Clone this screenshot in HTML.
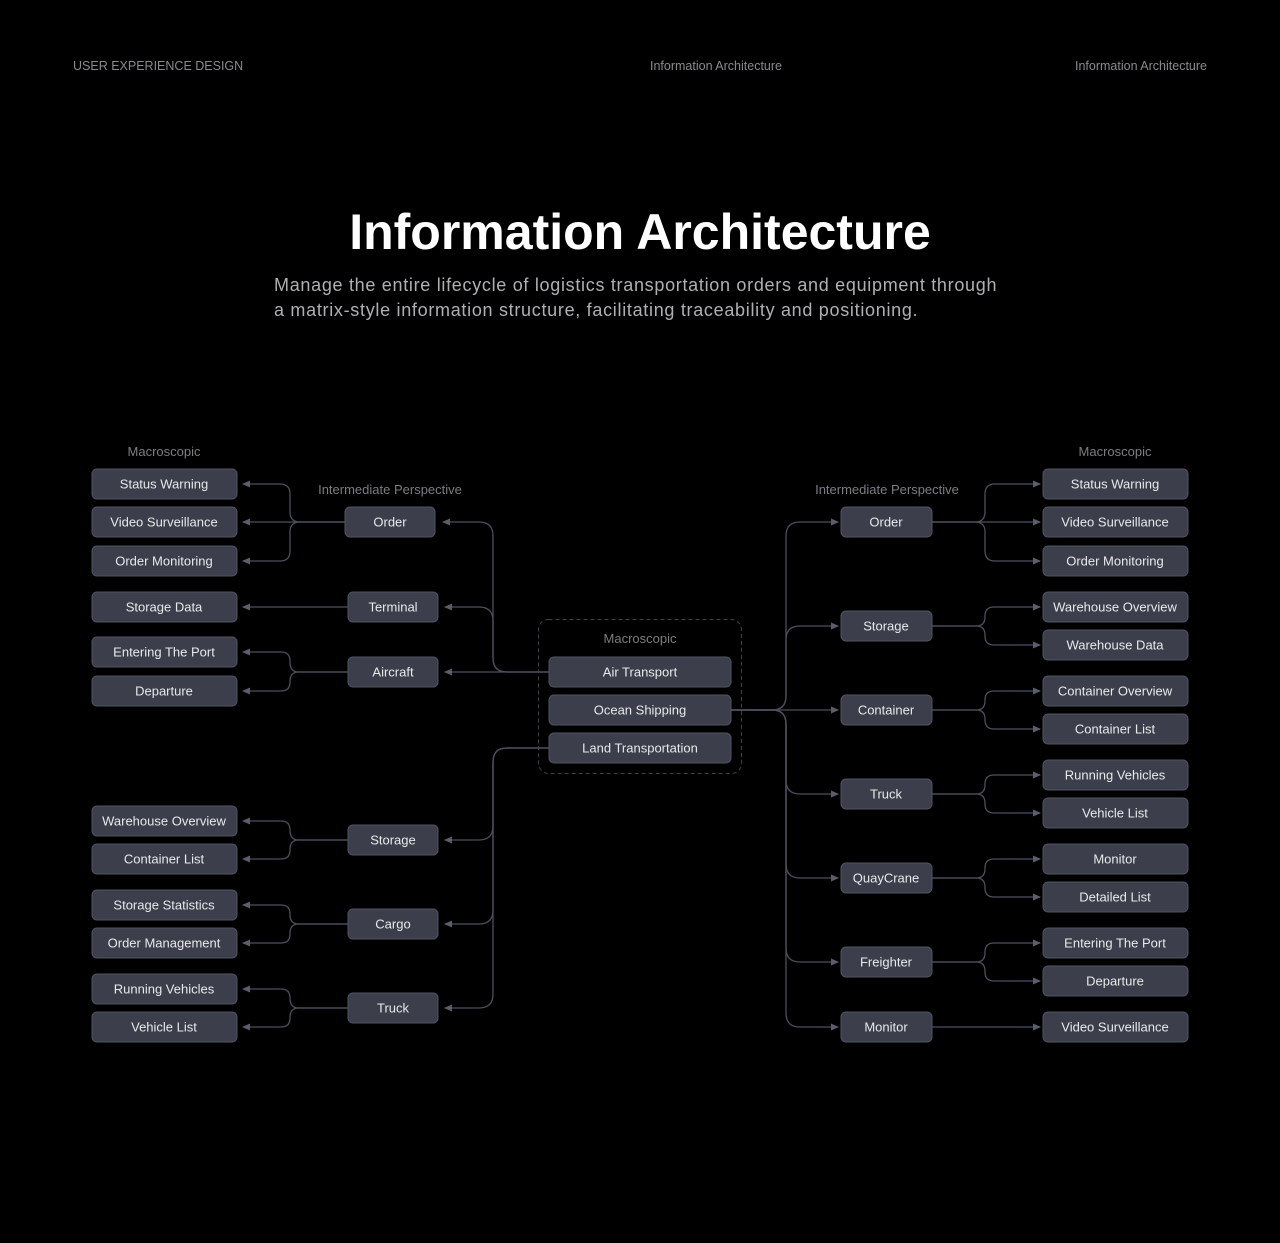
<!DOCTYPE html>
<html><head><meta charset="utf-8"><style>
html,body{margin:0;padding:0;background:#000;}
svg{display:block;}
text{font-family:"Liberation Sans",sans-serif;}
.b{fill:#3c3f4b;stroke:#4f5361;stroke-width:1;}
.t{fill:#e8e8ea;font-size:13px;text-anchor:middle;dominant-baseline:central;}
.l{fill:none;stroke:#4b4f5d;stroke-width:1.3;marker-end:url(#a);}
.g{fill:#7c7c82;font-size:13px;text-anchor:middle;}
</style></head><body>
<svg width="1280" height="1243" viewBox="0 0 1280 1243" xmlns="http://www.w3.org/2000/svg">
<defs><marker id="a" markerWidth="8" markerHeight="8" refX="7" refY="4" orient="auto" markerUnits="userSpaceOnUse"><path d="M0,0.5 L8,4 L0,7.5 z" fill="#5a5e6c"/></marker></defs>
<rect width="1280" height="1243" fill="#000"/>
<text x="73" y="70" fill="#8a8a8e" font-size="12.5">USER EXPERIENCE DESIGN</text>
<text x="716" y="70" fill="#8a8a8e" font-size="12.5" text-anchor="middle">Information Architecture</text>
<text x="1207" y="70" fill="#8a8a8e" font-size="12.5" text-anchor="end">Information Architecture</text>
<text x="640" y="249" fill="#fff" font-size="50" font-weight="bold" text-anchor="middle">Information Architecture</text>
<text x="274" y="291" fill="#b0b0b4" font-size="18" letter-spacing="0.7">Manage the entire lifecycle of logistics transportation orders and equipment through</text>
<text x="274" y="316" fill="#b0b0b4" font-size="18" letter-spacing="0.7">a matrix-style information structure, facilitating traceability and positioning.</text>

<text class="g" x="164" y="456">Macroscopic</text>
<text class="g" x="390" y="494">Intermediate Perspective</text>
<text class="g" x="1115" y="456">Macroscopic</text>
<text class="g" x="887" y="494">Intermediate Perspective</text>

<path class="l" d="M345 522 H300 Q290 522 290 512 V494 Q290 484 280 484 H243"/>
<path class="l" d="M345 522 H243"/>
<path class="l" d="M345 522 H300 Q290 522 290 532 V551 Q290 561 280 561 H243"/>
<path class="l" d="M348 607 H243"/>
<path class="l" d="M348 672 H299 Q290 672 290 663 V661 Q290 652 281 652 H243"/>
<path class="l" d="M348 672 H299 Q290 672 290 681 V682 Q290 691 281 691 H243"/>
<path class="l" d="M348 840 H299 Q290 840 290 831 V830 Q290 821 281 821 H243"/>
<path class="l" d="M348 840 H299 Q290 840 290 849 V850 Q290 859 281 859 H243"/>
<path class="l" d="M348 924 H299 Q290 924 290 915 V914 Q290 905 281 905 H243"/>
<path class="l" d="M348 924 H299 Q290 924 290 933 V934 Q290 943 281 943 H243"/>
<path class="l" d="M348 1008 H299 Q290 1008 290 999 V998 Q290 989 281 989 H243"/>
<path class="l" d="M348 1008 H299 Q290 1008 290 1017 V1018 Q290 1027 281 1027 H243"/>

<path class="l" d="M549 672 H507 Q493 672 493 658 V536 Q493 522 479 522 H443"/>
<path class="l" d="M549 672 H507 Q493 672 493 658 V621 Q493 607 479 607 H445"/>
<path class="l" d="M549 672 H445"/>
<path class="l" d="M549 748 H507 Q493 748 493 762 V826 Q493 840 479 840 H445"/>
<path class="l" d="M549 748 H507 Q493 748 493 762 V910 Q493 924 479 924 H445"/>
<path class="l" d="M549 748 H507 Q493 748 493 762 V994 Q493 1008 479 1008 H445"/>

<path class="l" d="M731 710 H772 Q786 710 786 696 V536 Q786 522 800 522 H838"/>
<path class="l" d="M731 710 H772 Q786 710 786 696 V640 Q786 626 800 626 H838"/>
<path class="l" d="M731 710 H838"/>
<path class="l" d="M731 710 H772 Q786 710 786 724 V780 Q786 794 800 794 H838"/>
<path class="l" d="M731 710 H772 Q786 710 786 724 V864 Q786 878 800 878 H838"/>
<path class="l" d="M731 710 H772 Q786 710 786 724 V948 Q786 962 800 962 H838"/>
<path class="l" d="M731 710 H772 Q786 710 786 724 V1013 Q786 1027 800 1027 H838"/>

<path class="l" d="M932 522 H975 Q985 522 985 512 V494 Q985 484 995 484 H1040"/>
<path class="l" d="M932 522 H1040"/>
<path class="l" d="M932 522 H975 Q985 522 985 532 V551 Q985 561 995 561 H1040"/>
<path class="l" d="M932 626 H976 Q985 626 985 617 V616 Q985 607 994 607 H1040"/>
<path class="l" d="M932 626 H976 Q985 626 985 635 V636 Q985 645 994 645 H1040"/>
<path class="l" d="M932 710 H976 Q985 710 985 701 V700 Q985 691 994 691 H1040"/>
<path class="l" d="M932 710 H976 Q985 710 985 719 V720 Q985 729 994 729 H1040"/>
<path class="l" d="M932 794 H976 Q985 794 985 785 V784 Q985 775 994 775 H1040"/>
<path class="l" d="M932 794 H976 Q985 794 985 803 V804 Q985 813 994 813 H1040"/>
<path class="l" d="M932 878 H976 Q985 878 985 869 V868 Q985 859 994 859 H1040"/>
<path class="l" d="M932 878 H976 Q985 878 985 887 V888 Q985 897 994 897 H1040"/>
<path class="l" d="M932 962 H976 Q985 962 985 953 V952 Q985 943 994 943 H1040"/>
<path class="l" d="M932 962 H976 Q985 962 985 971 V972 Q985 981 994 981 H1040"/>
<path class="l" d="M932 1027 H1040"/>

<rect x="538.5" y="619.5" width="203" height="154" rx="10" fill="none" stroke="#3e414b" stroke-dasharray="4 3"/>
<text class="g" x="640" y="643">Macroscopic</text>
<rect class="b" x="549" y="657" width="182" height="30" rx="5"/><text class="t" x="640" y="672">Air Transport</text>
<rect class="b" x="549" y="695" width="182" height="30" rx="5"/><text class="t" x="640" y="710">Ocean Shipping</text>
<rect class="b" x="549" y="733" width="182" height="30" rx="5"/><text class="t" x="640" y="748">Land Transportation</text>

<rect class="b" x="92" y="469" width="145" height="30" rx="5"/><text class="t" x="164" y="484">Status Warning</text>
<rect class="b" x="92" y="507" width="145" height="30" rx="5"/><text class="t" x="164" y="522">Video Surveillance</text>
<rect class="b" x="92" y="546" width="145" height="30" rx="5"/><text class="t" x="164" y="561">Order Monitoring</text>
<rect class="b" x="92" y="592" width="145" height="30" rx="5"/><text class="t" x="164" y="607">Storage Data</text>
<rect class="b" x="92" y="637" width="145" height="30" rx="5"/><text class="t" x="164" y="652">Entering The Port</text>
<rect class="b" x="92" y="676" width="145" height="30" rx="5"/><text class="t" x="164" y="691">Departure</text>
<rect class="b" x="92" y="806" width="145" height="30" rx="5"/><text class="t" x="164" y="821">Warehouse Overview</text>
<rect class="b" x="92" y="844" width="145" height="30" rx="5"/><text class="t" x="164" y="859">Container List</text>
<rect class="b" x="92" y="890" width="145" height="30" rx="5"/><text class="t" x="164" y="905">Storage Statistics</text>
<rect class="b" x="92" y="928" width="145" height="30" rx="5"/><text class="t" x="164" y="943">Order Management</text>
<rect class="b" x="92" y="974" width="145" height="30" rx="5"/><text class="t" x="164" y="989">Running Vehicles</text>
<rect class="b" x="92" y="1012" width="145" height="30" rx="5"/><text class="t" x="164" y="1027">Vehicle List</text>

<rect class="b" x="345" y="507" width="90" height="30" rx="5"/><text class="t" x="390" y="522">Order</text>
<rect class="b" x="348" y="592" width="90" height="30" rx="5"/><text class="t" x="393" y="607">Terminal</text>
<rect class="b" x="348" y="657" width="90" height="30" rx="5"/><text class="t" x="393" y="672">Aircraft</text>
<rect class="b" x="348" y="825" width="90" height="30" rx="5"/><text class="t" x="393" y="840">Storage</text>
<rect class="b" x="348" y="909" width="90" height="30" rx="5"/><text class="t" x="393" y="924">Cargo</text>
<rect class="b" x="348" y="993" width="90" height="30" rx="5"/><text class="t" x="393" y="1008">Truck</text>

<rect class="b" x="841" y="507" width="91" height="30" rx="5"/><text class="t" x="886" y="522">Order</text>
<rect class="b" x="841" y="611" width="91" height="30" rx="5"/><text class="t" x="886" y="626">Storage</text>
<rect class="b" x="841" y="695" width="91" height="30" rx="5"/><text class="t" x="886" y="710">Container</text>
<rect class="b" x="841" y="779" width="91" height="30" rx="5"/><text class="t" x="886" y="794">Truck</text>
<rect class="b" x="841" y="863" width="91" height="30" rx="5"/><text class="t" x="886" y="878">QuayCrane</text>
<rect class="b" x="841" y="947" width="91" height="30" rx="5"/><text class="t" x="886" y="962">Freighter</text>
<rect class="b" x="841" y="1012" width="91" height="30" rx="5"/><text class="t" x="886" y="1027">Monitor</text>

<rect class="b" x="1043" y="469" width="145" height="30" rx="5"/><text class="t" x="1115" y="484">Status Warning</text>
<rect class="b" x="1043" y="507" width="145" height="30" rx="5"/><text class="t" x="1115" y="522">Video Surveillance</text>
<rect class="b" x="1043" y="546" width="145" height="30" rx="5"/><text class="t" x="1115" y="561">Order Monitoring</text>
<rect class="b" x="1043" y="592" width="145" height="30" rx="5"/><text class="t" x="1115" y="607">Warehouse Overview</text>
<rect class="b" x="1043" y="630" width="145" height="30" rx="5"/><text class="t" x="1115" y="645">Warehouse Data</text>
<rect class="b" x="1043" y="676" width="145" height="30" rx="5"/><text class="t" x="1115" y="691">Container Overview</text>
<rect class="b" x="1043" y="714" width="145" height="30" rx="5"/><text class="t" x="1115" y="729">Container List</text>
<rect class="b" x="1043" y="760" width="145" height="30" rx="5"/><text class="t" x="1115" y="775">Running Vehicles</text>
<rect class="b" x="1043" y="798" width="145" height="30" rx="5"/><text class="t" x="1115" y="813">Vehicle List</text>
<rect class="b" x="1043" y="844" width="145" height="30" rx="5"/><text class="t" x="1115" y="859">Monitor</text>
<rect class="b" x="1043" y="882" width="145" height="30" rx="5"/><text class="t" x="1115" y="897">Detailed List</text>
<rect class="b" x="1043" y="928" width="145" height="30" rx="5"/><text class="t" x="1115" y="943">Entering The Port</text>
<rect class="b" x="1043" y="966" width="145" height="30" rx="5"/><text class="t" x="1115" y="981">Departure</text>
<rect class="b" x="1043" y="1012" width="145" height="30" rx="5"/><text class="t" x="1115" y="1027">Video Surveillance</text>
</svg>
</body></html>
